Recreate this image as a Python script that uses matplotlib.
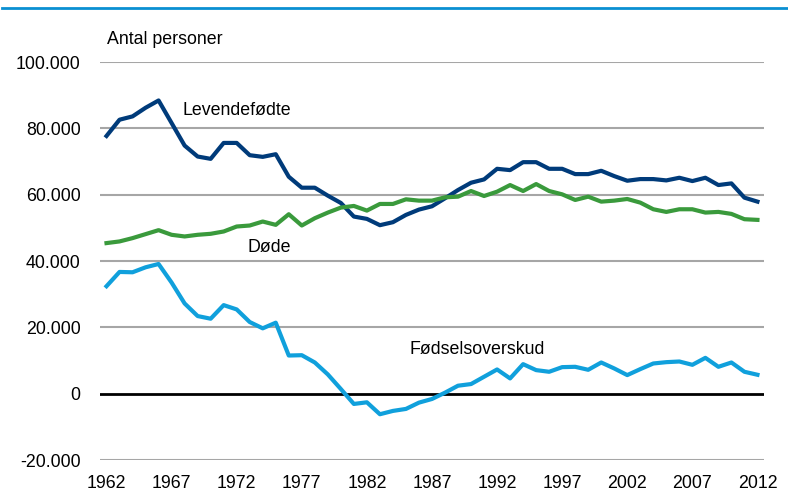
import matplotlib.pyplot as plt
from matplotlib.lines import Line2D

plt.rcParams['font.family'] = ['Liberation Sans', 'DejaVu Sans']

years = list(range(1962, 2013))

# levendefødte (antal)
levende = [77700, 82600, 83600, 86200, 88400, 81600, 74800, 71500, 70800, 75600,
           75600, 71900, 71400, 72200, 65400, 62100, 62100, 59700, 57500, 53400,
           52700, 50800, 51700, 53900, 55500, 56500, 58900, 61400, 63600, 64600,
           67800, 67400, 69800, 69800, 67800, 67800, 66200, 66200, 67200, 65600,
           64200, 64700, 64700, 64300, 65100, 64100, 65100, 62900, 63400, 59100,
           57900]

# døde (antal)
doede = [45400, 45900, 46900, 48100, 49300, 47900, 47400, 47900, 48200, 48900,
         50400, 50700, 51900, 50900, 54100, 50700, 52900, 54600, 56100, 56600,
         55200, 57200, 57200, 58600, 58200, 58200, 59200, 59400, 61100, 59600,
         60900, 62900, 61100, 63200, 61100, 60100, 58400, 59400, 57900, 58200,
         58700, 57600, 55600, 54800, 55600, 55600, 54600, 54800, 54200, 52600,
         52400]

# fødselsoverskud (antal)
overskud = [32400, 36700, 36600, 38100, 39100, 33500, 27200, 23400, 22600, 26700,
            25400, 21600, 19700, 21400, 11500, 11600, 9400, 5800, 1400, -3100,
            -2600, -6200, -5200, -4600, -2700, -1600, 300, 2400, 2900, 5100,
            7300, 4600, 8900, 7100, 6600, 8000, 8100, 7200, 9400, 7600,
            5600, 7400, 9100, 9500, 9700, 8700, 10800, 8100, 9400, 6600,
            5700]

yticks = [-20000, 0, 20000, 40000, 60000, 80000, 100000]
xticks = list(range(1962, 2013, 5))

fs = 12.8

fig = plt.figure(figsize=(7.88, 4.98), dpi=100)
ax = fig.add_axes([0.1269, 0.0763, 0.8426, 0.7992])

for v in yticks:
    if v == 0:
        ax.axhline(v, color='black', lw=2, zorder=2)
    else:
        ax.axhline(v, color='#a6a6a6', lw=1.5, zorder=1)

ax.plot(years, levende, color='#003b7a', lw=3, zorder=3, solid_joinstyle='round')
ax.plot(years, doede, color='#3a9a3c', lw=3, zorder=3, solid_joinstyle='round')
ax.plot(years, overskud, color='#10a0dc', lw=3, zorder=3, solid_joinstyle='round')

ax.set_xlim(1961.5, 2012.5)
ax.set_ylim(-20000, 100000)
ax.set_yticks(yticks)
ax.set_yticklabels([f'{v:,}'.replace(',', '.') for v in yticks])
ax.set_xticks(xticks)
ax.set_xticklabels([str(x) for x in xticks])
ax.tick_params(length=0, labelsize=fs, colors='black')
ax.tick_params(axis='y', pad=14)
ax.tick_params(axis='x', pad=11)
for s in ax.spines.values():
    s.set_visible(False)

ax.text(1967.8, 85400, 'Levendefødte', fontsize=fs, va='center', ha='left')
ax.text(1974.5, 44000, 'Døde', fontsize=fs, va='center', ha='center')
ax.text(1985.3, 13300, 'Fødselsoverskud', fontsize=fs, va='center', ha='left')

fig.text(107 / 788, 1 - 40 / 498, 'Antal personer', fontsize=fs, va='center', ha='left')
fig.add_artist(Line2D([2 / 788, 1], [1 - 8.5 / 498, 1 - 8.5 / 498], color='#0a8fd2', lw=2))

fig.savefig('out.png', dpi=100)
